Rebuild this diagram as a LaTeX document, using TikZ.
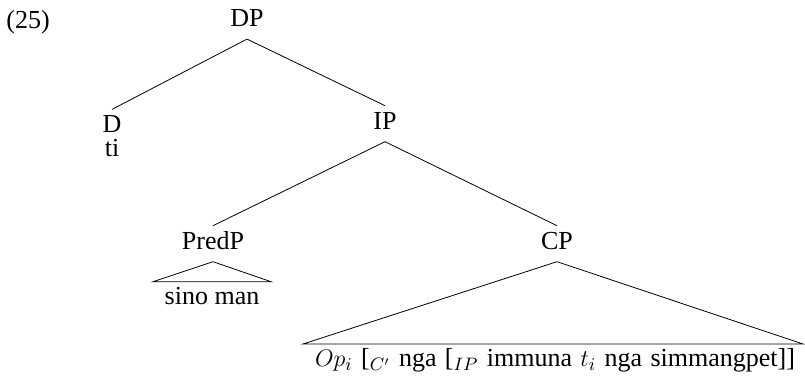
\documentclass[tikz,border=0pt,12pt]{standalone}
\usepackage{fontspec}
\setmainfont{Liberation Serif}
\begin{document}
\begin{tikzpicture}[x=0.5pt,y=-0.5pt,font=\fontsize{13}{15.6}\selectfont,
  cat/.style={anchor=base,inner sep=0pt,text height=11.6pt,text depth=6pt},
  word/.style={anchor=base,inner sep=0pt}]
\useasboundingbox (0,0) rectangle (805,378);

% labels
\node[word,anchor=base west] (ex) at (6,29) {(25)};
\node[cat] (dp) at (247,26.7) {DP};
\node[cat] (d) at (112,133) {D};
\node[word] (ti) at (112,157) {ti};
\node[cat] (ip) at (385,129.3) {IP};
\node[cat] (predp) at (213,249.3) {PredP};
\node[cat] (cp) at (557,249.3) {CP};
\node[word] (sino) at (212,305) {sino man};
\node[word] (rel) at (555,366.7)
  {\makebox[240pt][s]{$Op_i$ [$_{C'}$ nga [$_{IP}$ immuna $t_i$ nga simmangpet]]}};

% branches
\draw (dp.south) -- (d.north);
\draw (dp.south) -- (ip.north);
\draw (ip.south) -- (predp.north);
\draw (ip.south) -- (cp.north);

% roofs
\coordinate (predpl) at (153,281.7);
\coordinate (predpr) at (271,281.7);
\draw (predp.south) -- (predpl) -- (predpr) -- cycle;
\coordinate (cpl) at (303,344);
\coordinate (cpr) at (803,344);
\draw (cp.south) -- (cpl) -- (cpr) -- cycle;

\end{tikzpicture}
\end{document}
